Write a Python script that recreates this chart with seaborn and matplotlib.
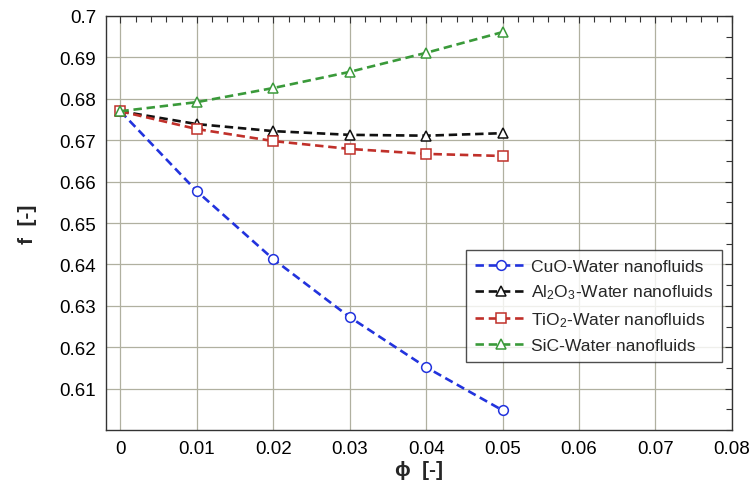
import numpy as np
import pandas as pd
import matplotlib
matplotlib.use("Agg")
import matplotlib.pyplot as plt
import seaborn as sns
from matplotlib.ticker import MultipleLocator, FixedLocator, FixedFormatter

phi = [0.0, 0.01, 0.02, 0.03, 0.04, 0.05]
f_cuo = [0.6770, 0.6577, 0.6413, 0.6273, 0.6152, 0.6048]
f_al2o3 = [0.6770, 0.6739, 0.6722, 0.6713, 0.6711, 0.6717]
f_tio2 = [0.6770, 0.6727, 0.6698, 0.6679, 0.6667, 0.6662]
f_sic = [0.6770, 0.6792, 0.6826, 0.6865, 0.6911, 0.6961]
labels = ["CuO-Water nanofluids", r"Al$_2$O$_3$-Water nanofluids",
          r"TiO$_2$-Water nanofluids", "SiC-Water nanofluids"]
x_ticks = [0, 0.01, 0.02, 0.03, 0.04, 0.05, 0.06, 0.07, 0.08]
x_ticklabels = ["0", "0.01", "0.02", "0.03", "0.04", "0.05", "0.06", "0.07", "0.08"]
y_ticks = [0.61, 0.62, 0.63, 0.64, 0.65, 0.66, 0.67, 0.68, 0.69, 0.70]
y_ticklabels = ["0.61", "0.62", "0.63", "0.64", "0.65", "0.66", "0.67", "0.68", "0.69", "0.7"]

sns.set_style("white")
plt.rcParams["font.family"] = ["Liberation Sans", "DejaVu Sans"]
plt.rcParams["mathtext.default"] = "regular"

fig = plt.figure(figsize=(7.56, 4.85), dpi=100)
ax = fig.add_axes([0.140, 0.111, 0.828, 0.854])

series = [f_cuo, f_al2o3, f_tio2, f_sic]
colors = ["#2233dd", "#111111", "#c0302a", "#3a9a3a"]
markers = ["o", "^", "s", "^"]
msizes = [7, 6.5, 7.5, 7.5]

for vals, lab, c, m, ms in zip(series, labels, colors, markers, msizes):
    df = pd.DataFrame({"phi": phi, "f": vals})
    sns.lineplot(data=df, x="phi", y="f", ax=ax, color=c, lw=1.9,
                 linestyle=(0, (3.2, 1.8)), marker=m, markersize=ms,
                 markerfacecolor="white", markeredgecolor=c,
                 markeredgewidth=1.1, label=lab)

ax.set_xlim(-0.0019, 0.08)
ax.set_ylim(0.6, 0.7)
ax.xaxis.set_major_locator(FixedLocator(x_ticks))
ax.xaxis.set_major_formatter(FixedFormatter(x_ticklabels))
ax.yaxis.set_major_locator(FixedLocator(y_ticks))
ax.yaxis.set_major_formatter(FixedFormatter(y_ticklabels))
ax.xaxis.set_minor_locator(MultipleLocator(0.002))
ax.yaxis.set_minor_locator(MultipleLocator(0.005))
ax.tick_params(which="both", direction="in", top=True, right=True, colors="#333333",
               labelcolor="black")
ax.tick_params(which="major", length=5, width=0.8, labelsize=13.5, pad=7)
ax.tick_params(which="minor", length=4, width=0.8)
ax.grid(True, which="major", color="#b0b0a0", lw=0.9)
for s in ax.spines.values():
    s.set_color("#333333")
    s.set_linewidth(1.0)

ax.set_xlabel("ϕ  [-]", fontsize=15, fontweight="bold", labelpad=2)
ax.set_ylabel("f  [-]", fontsize=15, fontweight="bold", labelpad=16)

leg = ax.legend(loc="upper left", bbox_to_anchor=(0.575, 0.435), fontsize=12.6,
                frameon=True, fancybox=False, edgecolor="#222222",
                handlelength=3.0, handletextpad=0.2, borderpad=0.5,
                labelspacing=0.5, borderaxespad=0)
leg.get_frame().set_linewidth(1.0)

fig.savefig("out.png", dpi=100)
